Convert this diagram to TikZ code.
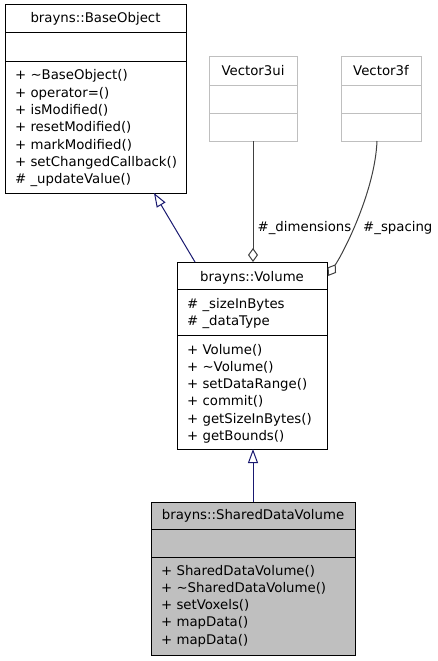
\documentclass[tikz,border=0pt]{standalone}
\usepackage{fontspec}
\setmainfont{DejaVu Sans}
\usetikzlibrary{arrows.meta}

\definecolor{edgeblue}{HTML}{191970}
\definecolor{aggray}{HTML}{404040}
\definecolor{boxgray}{HTML}{BFBFBF}
\definecolor{framegray}{HTML}{BFBFBF}

\tikzset{
  classbox/.style={draw=black, line width=1pt, fill=white, inner sep=0pt, outer sep=0pt},
  shadedbox/.style={classbox, fill=boxgray},
  extbox/.style={draw=framegray, line width=1pt, fill=white, inner sep=0pt, outer sep=0pt},
  member/.style={anchor=base west, inner sep=0pt, font=\umlfont},
  title/.style={anchor=base, inner sep=0pt, font=\umlfont},
  inherit/.style={draw=edgeblue, line width=1pt,
    -{Triangle[open, length=14pt, width=10pt, fill=white]}},
  aggregate/.style={draw=aggray, line width=1pt,
    -{Diamond[open, length=14pt, width=10pt, fill=white]}},
  edgelabel/.style={anchor=base west, inner sep=0pt, font=\umlfont},
}
\newcommand\umlfont{\fontsize{13.3}{16}\selectfont}

% class frame: #1 name, #2 style, #3 left, #4 top, #5 right, #6 bottom, #7 first rule, #8 second rule
\newcommand\umlclass[8]{%
  \node[#2, minimum width={#5pt-#3pt}, minimum height={#6pt-#4pt}]
    (#1) at ({(#3+#5)/2},{(#4+#6)/2}) {};
  \draw[#2, fill=none] (#3,#7) -- (#5,#7) (#3,#8) -- (#5,#8);
}

\begin{document}
\begin{tikzpicture}[x=1pt, y=-1pt]
  \useasboundingbox (0,0) rectangle (437,661);

  % brayns::BaseObject
  \umlclass{base}{classbox}{5}{5}{186}{193}{33}{62}
  \node[title] (base-t) at (95.5,23) {brayns::BaseObject};
  \node[member] (base-m1) at (15,80)    {+ \textasciitilde BaseObject()};
  \node[member] (base-m2) at (15,97.3)  {+ operator=()};
  \node[member] (base-m3) at (15,114.6) {+ isModified()};
  \node[member] (base-m4) at (15,131.9) {+ resetModified()};
  \node[member] (base-m5) at (15,149.2) {+ markModified()};
  \node[member] (base-m6) at (15,166.5) {+ setChangedCallback()};
  \node[member] (base-m7) at (15,183.8) {\# \_updateValue()};

  % Vector3ui
  \umlclass{v3ui}{extbox}{209}{57}{297}{141}{85}{113}
  \node[title] (v3ui-t) at (253,76) {Vector3ui};

  % Vector3f
  \umlclass{v3f}{extbox}{341}{57}{421}{141}{85}{113}
  \node[title] (v3f-t) at (381,76) {Vector3f};

  % brayns::Volume
  \umlclass{volume}{classbox}{177}{262}{327}{449}{289}{335}
  \node[title] (volume-t) at (252,281) {brayns::Volume};
  \node[member] (volume-a1) at (187,308)   {\# \_sizeInBytes};
  \node[member] (volume-a2) at (187,325.3) {\# \_dataType};
  \node[member] (volume-m1) at (187,354)   {+ Volume()};
  \node[member] (volume-m2) at (187,371.3) {+ \textasciitilde Volume()};
  \node[member] (volume-m3) at (187,388.6) {+ setDataRange()};
  \node[member] (volume-m4) at (187,405.9) {+ commit()};
  \node[member] (volume-m5) at (187,423.2) {+ getSizeInBytes()};
  \node[member] (volume-m6) at (187,440.5) {+ getBounds()};

  % brayns::SharedDataVolume
  \umlclass{sdv}{shadedbox}{151}{502}{355}{655}{529}{557}
  \node[title] (sdv-t) at (253,519) {brayns::SharedDataVolume};
  \node[member] (sdv-m1) at (161,575)   {+ SharedDataVolume()};
  \node[member] (sdv-m2) at (161,592.3) {+ \textasciitilde SharedDataVolume()};
  \node[member] (sdv-m3) at (161,609.6) {+ setVoxels()};
  \node[member] (sdv-m4) at (161,626.9) {+ mapData()};
  \node[member] (sdv-m5) at (161,644.2) {+ mapData()};

  % inheritance
  \draw[inherit] ([xshift=18pt]volume.north west) -- ([xshift=149pt]base.south west);
  \draw[inherit] (sdv.north) -- (sdv.north |- volume.south);

  % aggregation of the vector members
  \draw[aggregate] (v3ui.south) -- (v3ui.south |- volume.north);
  \draw[aggregate] ([xshift=-4pt]v3f.south)
    .. controls (375,190) and (345,250) .. ([xshift=1pt,yshift=-14pt]volume.north east);
  \node[edgelabel] (lbl-dim) at (257.5,231) {\#\_dimensions};
  \node[edgelabel] (lbl-spc) at (363,231) {\#\_spacing};
\end{tikzpicture}
\end{document}
